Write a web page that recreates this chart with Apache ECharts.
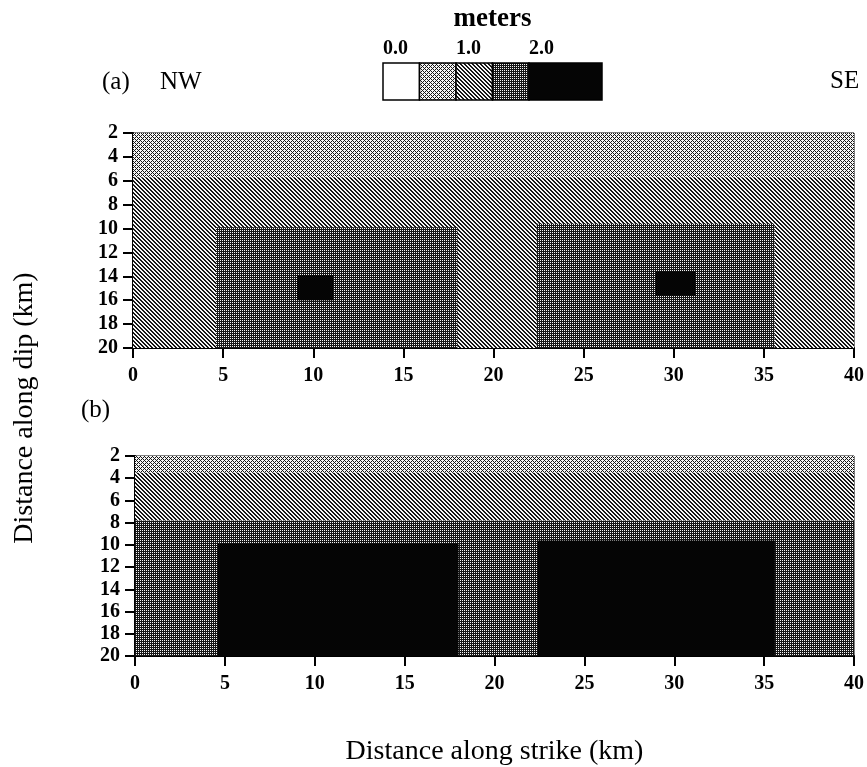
<!DOCTYPE html>
<html>
<head>
<meta charset="utf-8">
<script src="https://cdn.jsdelivr.net/npm/echarts@6/dist/echarts.min.js"></script>
<style>
html, body { margin: 0; padding: 0; background: #fff; }
#main { width: 867px; height: 767px; }
</style>
</head>
<body>
<div id="main"></div>
<script>
// slip patches: [x0, x1, depth0, depth1, slip (m)]
var patchesA = [
    [0, 40, 2, 5.7, 0.75],
    [0, 40, 5.7, 20, 1.25],
    [4.6, 18, 9.9, 20, 1.75],
    [22.4, 35.6, 9.6, 20, 1.75],
    [9.1, 11.1, 13.9, 16, 2.5],
    [29, 31.2, 13.6, 15.6, 2.5]
];
var patchesB = [
    [0, 40, 2, 3.5, 0.75],
    [0, 40, 3.5, 7.8, 1.25],
    [0, 40, 7.8, 20, 1.75],
    [4.6, 18, 9.9, 20, 2.5],
    [22.4, 35.6, 9.6, 20, 2.5]
];
// colour scale boxes: [from, to, slip]
var scaleBoxes = [
    [0, 0.5, 0.25],
    [0.5, 1.0, 0.75],
    [1.0, 1.5, 1.25],
    [1.5, 2.0, 1.75],
    [2.0, 3.0, 2.5]
];
var scaleLabels = ['0.0', '1.0', '2.0'];

var SERIF = '"Liberation Serif", "DejaVu Serif", serif';
var INK = '#161616', PAPER = '#f6f6f6';

function tile(size, dark) {
    var c = document.createElement('canvas');
    c.width = size; c.height = size;
    var ctx = c.getContext('2d');
    for (var x = 0; x < size; x++) {
        for (var y = 0; y < size; y++) {
            ctx.fillStyle = dark(x, y) ? INK : PAPER;
            ctx.fillRect(x, y, 1, 1);
        }
    }
    return { image: c, repeat: 'repeat' };
}
var lightFill = tile(4, function (x, y) { return (x + y) % 4 == 0 || (x - y + 4) % 4 == 0; });
var midFill = tile(4, function (x, y) { var k = (x - y + 4) % 4; return k == 0 || k == 1; });
var darkFill = tile(2, function (x, y) { return !(x == 0 && y == 0); });

function fillFor(s) {
    if (s < 0.5) return '#ffffff';
    if (s < 1.0) return lightFill;
    if (s < 1.5) return midFill;
    if (s < 2.0) return darkFill;
    return '#050505';
}

function renderPatch(params, api) {
    var p0 = api.coord([api.value(0), api.value(2)]);
    var p1 = api.coord([api.value(1), api.value(3)]);
    return {
        type: 'rect',
        shape: { x: p0[0], y: Math.min(p0[1], p1[1]), width: p1[0] - p0[0], height: Math.abs(p1[1] - p0[1]) },
        style: { fill: fillFor(api.value(4)) }
    };
}
function renderBox(params, api) {
    var p0 = api.coord([api.value(0), 1]);
    var p1 = api.coord([api.value(1), 0]);
    return {
        type: 'rect',
        shape: { x: p0[0], y: p0[1], width: p1[0] - p0[0], height: p1[1] - p0[1] },
        style: { fill: fillFor(api.value(2)), stroke: '#000', lineWidth: 1.5 }
    };
}

var tickFont = { fontFamily: SERIF, fontWeight: 'bold', fontSize: 20, color: '#000' };

function xAx(idx, showName) {
    return {
        gridIndex: idx, type: 'value', min: 0, max: 40, interval: 5,
        axisLine: { lineStyle: { color: '#000', width: 2 } },
        axisTick: { length: 10, lineStyle: { color: '#000', width: 2 } },
        splitLine: { show: false },
        axisLabel: Object.assign({ margin: 18 }, tickFont),
        name: showName ? 'Distance along strike (km)' : '',
        nameLocation: 'middle', nameGap: 82,
        nameTextStyle: { fontFamily: SERIF, fontSize: 28, color: '#000' }
    };
}
function yAx(idx) {
    return {
        gridIndex: idx, type: 'value', min: 2, max: 20, interval: 2, inverse: true,
        axisLine: { lineStyle: { color: '#000', width: 2 } },
        axisTick: { length: 10, lineStyle: { color: '#000', width: 2 } },
        splitLine: { show: false },
        axisLabel: Object.assign({ margin: 15 }, tickFont)
    };
}

var myChart = echarts.init(document.getElementById('main'));
var option = {
    backgroundColor: '#fff',
    animation: false,
    grid: [
        { left: 133, width: 722, top: 133, height: 215, show: true, borderColor: '#000', borderWidth: 1, backgroundColor: 'transparent' },
        { left: 135, width: 722, top: 456, height: 214, show: true, borderColor: '#000', borderWidth: 1, backgroundColor: 'transparent' },
        { left: 383, width: 219, top: 63, height: 37 }
    ],
    xAxis: [
        xAx(0, false),
        xAx(1, true),
        {
            gridIndex: 2, type: 'value', min: 0, max: 3, interval: 1, position: 'top',
            axisLine: { show: false }, axisTick: { show: false }, splitLine: { show: false },
            axisLabel: {
                margin: 4, align: 'left', fontFamily: SERIF, fontWeight: 'bold', fontSize: 20, color: '#000',
                formatter: function (v) { return scaleLabels[Math.round(v)] || ''; }
            },
            name: 'meters', nameLocation: 'middle', nameGap: 30,
            nameTextStyle: { fontFamily: SERIF, fontWeight: 'bold', fontSize: 27, color: '#000' }
        }
    ],
    yAxis: [
        yAx(0),
        yAx(1),
        { gridIndex: 2, type: 'value', min: 0, max: 1, show: false }
    ],
    graphic: [
        { type: 'text', left: 102, top: 70, style: { text: '(a)', font: '25px ' + SERIF, fill: '#000' } },
        { type: 'text', left: 160, top: 70, style: { text: 'NW', font: '25px ' + SERIF, fill: '#000' } },
        { type: 'text', left: 830, top: 69, style: { text: 'SE', font: '25px ' + SERIF, fill: '#000' } },
        { type: 'text', left: 81, top: 398, style: { text: '(b)', font: '25px ' + SERIF, fill: '#000' } },
        {
            type: 'text', x: 25, y: 408, rotation: Math.PI / 2,
            style: { text: 'Distance along dip (km)', font: '28px ' + SERIF, fill: '#000', align: 'center', verticalAlign: 'middle' }
        }
    ],
    series: [
        { type: 'custom', xAxisIndex: 0, yAxisIndex: 0, renderItem: renderPatch, data: patchesA, silent: true },
        { type: 'custom', xAxisIndex: 1, yAxisIndex: 1, renderItem: renderPatch, data: patchesB, silent: true },
        { type: 'custom', xAxisIndex: 2, yAxisIndex: 2, renderItem: renderBox, data: scaleBoxes, silent: true }
    ]
};
myChart.setOption(option);
</script>
</body>
</html>
